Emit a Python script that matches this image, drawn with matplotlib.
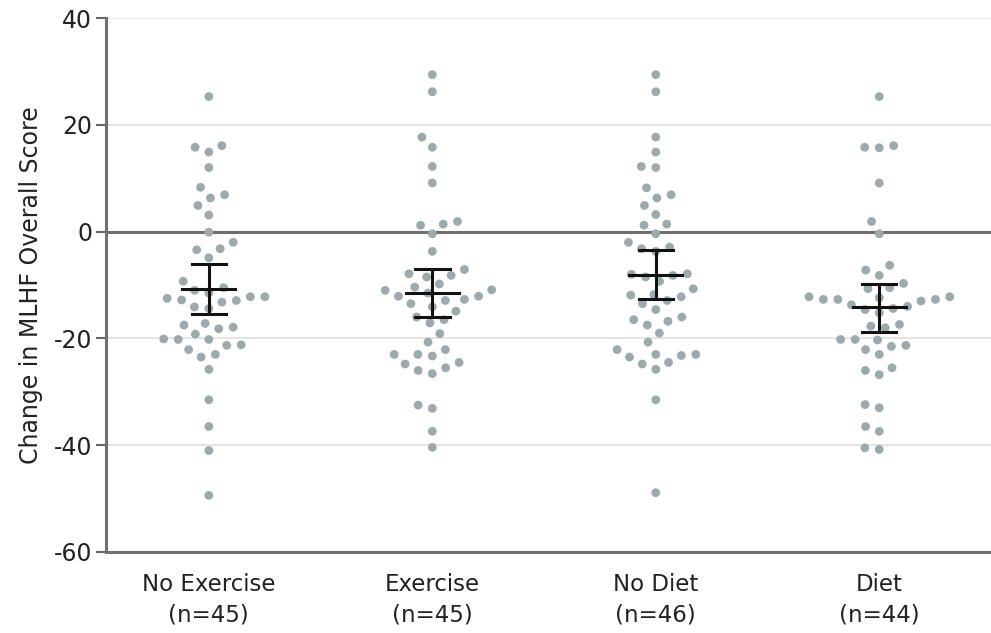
import numpy as np
import matplotlib
matplotlib.use("Agg")
import matplotlib.pyplot as plt

plt.rcParams['font.family'] = ['Liberation Sans Narrow', 'DejaVu Sans Condensed', 'DejaVu Sans']

# ---------------- data ----------------
grupos = ['No Exercise\n(n=45)', 'Exercise\n(n=45)', 'No Diet\n(n=46)', 'Diet\n(n=44)']

no_exercise = [25.3, 15.8, 14.9, 16.1, 12.0, 8.3, 6.9, 6.3, 4.9, 3.1, -0.1,
               -2.0, -3.4, -3.2, -4.9, -9.3, -10.5, -11.0, -11.5,
               -12.2, -12.5, -12.9, -13.2, -12.8, -12.2, -14.1, -14.4,
               -17.2, -17.5, -18.2, -17.9, -20.1, -20.2, -21.3, -21.2, -20.2, -19.2,
               -23.0, -22.1, -23.5, -25.8, -31.5, -36.5, -41.0, -49.4]
exercise = [29.4, 26.2, 17.7, 15.8, 12.2, 9.1, 1.9, 1.2, 1.4, -0.4, -3.7,
            -7.1, -8.2, -8.5, -7.9, -10.4, -11.0, -12.1, -12.9, -10.9, -9.8,
            -12.1, -13.5, -12.7, -11.5, -14.1, -14.9, -16.0, -17.1, -16.5, -19.1,
            -20.7, -22.1, -23.0, -24.5, -23.0, -24.8, -23.3, -25.5, -26.6, -26.0,
            -32.5, -33.1, -37.4, -40.4]
no_diet = [29.4, 26.2, 17.7, 14.9, 12.0, 12.2, 8.2, 6.9, 6.3, 4.9, 3.2,
           1.2, 1.4, -0.4, -2.0, -2.9, -3.7, -3.2, -7.9, -8.2, -9.3, -8.0, -8.5,
           -10.7, -11.8, -12.2, -13.5, -12.9, -11.9, -14.6, -16.0, -16.8, -17.5, -16.5,
           -19.0, -20.7, -22.1, -23.0, -23.2, -24.5, -25.8, -24.8, -23.5, -23.0,
           -31.5, -48.9]
diet = [25.3, 15.8, 15.7, 16.1, 9.1, 1.9, -0.4, -7.2, -6.3, -8.2, -9.7, -10.7, -10.5,
        -12.2, -12.7, -12.7, -13.0, -12.7, -12.4, -12.2, -13.7, -15.2, -14.6, -14.0, -14.4,
        -17.7, -18.0, -17.4, -20.3, -21.5, -20.2, -21.3, -20.2, -23.0, -22.1,
        -26.0, -26.8, -25.5, -33.0, -32.4, -36.5, -37.4, -40.8, -40.5]

medias = [-10.8, -11.5, -8.2, -14.2]
ic_sup = [-6.0, -7.0, -3.5, -9.8]
ic_inf = [-15.5, -16.0, -12.7, -18.8]

dados = [no_exercise, exercise, no_diet, diet]

# ---------------- beeswarm simples (em pixels) ----------------
PX_Y = 5.33   # pixels por unidade em y
PX_X = 223.0  # pixels por unidade em x

def espalha(valores, d=14.5):
    ys = np.sort(np.array(valores, dtype=float))
    colocados = []
    xs = []
    for y in ys:
        yp = y * PX_Y
        viz = [(xx, yy) for xx, yy in colocados if abs(yy - yp) < d]
        cands = [0.0]
        for xx, yy in viz:
            dx = np.sqrt(d ** 2 - (yy - yp) ** 2)
            cands += [xx - dx, xx + dx]
        cands = sorted(cands, key=lambda c: (abs(c), c))
        escolha = cands[-1]
        for c in cands:
            ok = True
            for xx, yy in viz:
                if (xx - c) ** 2 + (yy - yp) ** 2 < d ** 2 - 1e-6:
                    ok = False
                    break
            if ok:
                escolha = c
                break
        colocados.append((escolha, yp))
        xs.append(escolha / PX_X)
    return np.array(xs), ys

fig = plt.figure(figsize=(9.91, 6.33), dpi=100)
ax = fig.add_axes([0.107, 0.128, 0.893, 0.8435])

cor_ponto = '#9aabb0'
for i, vals in enumerate(dados):
    dx, yy = espalha(vals)
    ax.scatter(i + dx, yy, s=40, color=cor_ponto, edgecolors='none', zorder=3)

# media e IC
for i in range(len(grupos)):
    ax.plot([i, i], [ic_inf[i], ic_sup[i]], color='#111111', lw=2.2, zorder=4)
    ax.plot([i - 0.077, i + 0.077], [ic_sup[i], ic_sup[i]], color='#111111', lw=2.2, zorder=4)
    ax.plot([i - 0.077, i + 0.077], [ic_inf[i], ic_inf[i]], color='#111111', lw=2.2, zorder=4)
    ax.plot([i - 0.118, i + 0.118], [medias[i], medias[i]], color='#111111', lw=2.2, zorder=4)

ax.set_xlim(-0.46, 3.5)
ax.set_ylim(-60, 40)
ax.set_yticks([-60, -40, -20, 0, 20, 40])
ax.set_yticklabels(['-60', '-40', '-20', '0', '20', '40'])
ax.set_xticks(range(len(grupos)))
ax.set_xticklabels(grupos, fontsize=16.5, linespacing=1.4, color='#222222')
ax.tick_params(axis='x', length=0, pad=15)
ax.tick_params(axis='y', labelsize=17, length=7, width=1.5, color='#666666', pad=3,
               labelcolor='#222222')

for g in [-40, -20, 20, 40]:
    ax.axhline(g, color='#e2e2e2', lw=1.3, zorder=1)
ax.axhline(0, color='#6e6e6e', lw=2.2, zorder=2)

for s in ['top', 'right']:
    ax.spines[s].set_visible(False)
ax.spines['left'].set_color('#707070')
ax.spines['left'].set_linewidth(2.2)
ax.spines['bottom'].set_color('#707070')
ax.spines['bottom'].set_linewidth(2.2)

ax.set_ylabel('Change in MLHF Overall Score', fontsize=17, labelpad=8, color='#222222')

fig.savefig('out.png', dpi=100)
